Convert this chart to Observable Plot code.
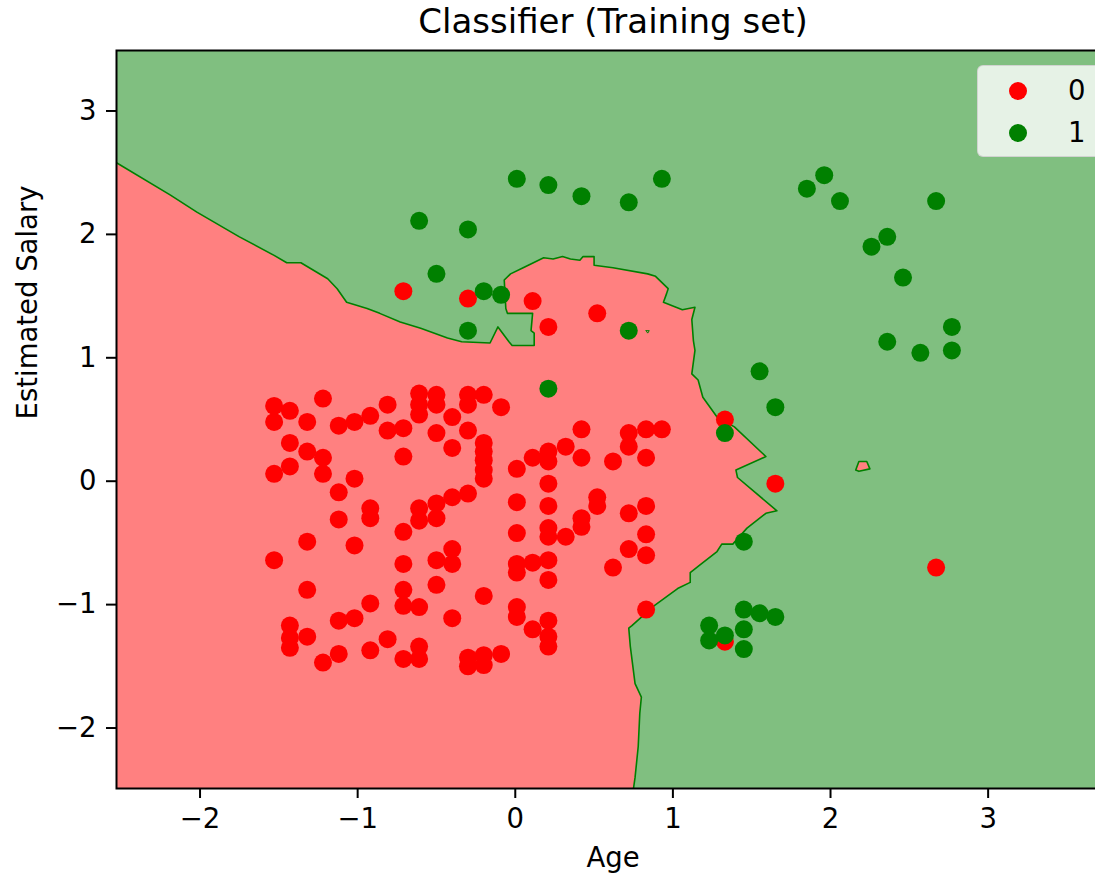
<!DOCTYPE html>
<html><head><meta charset="utf-8">
<script src="https://cdn.jsdelivr.net/npm/d3@7"></script>
<script src="https://cdn.jsdelivr.net/npm/@observablehq/plot@0.6"></script>
<style>
html,body{margin:0;padding:0;overflow:hidden;background:#fff}
#wrap{position:relative;width:1095px;height:878px;overflow:hidden}
#wrap svg{max-width:none !important;display:block}
.legend{position:absolute;left:977px;top:65px;width:125px;height:92px;background:rgba(255,255,255,0.8);border:1.5px solid rgba(204,204,204,0.8);border-radius:6px;box-sizing:border-box;font-family:"DejaVu Sans",sans-serif;font-size:27.5px;color:#000}
.sw{position:absolute;width:18px;height:18px;border-radius:50%}
.lab{position:absolute;line-height:30px}
</style></head>
<body><div id="wrap"></div>
<script>
// ---- texts
const title = "Classifier (Training set)";
const xLabel = "Age";
const yLabel = "Estimated Salary";
const classes = ["0", "1"];
const pointColors = ["#ff0000", "#008000"];
const regionColors = ["#ff8080", "#80bf80"];
const xTicks = [-2, -1, 0, 1, 2, 3];
const yTicks = [-2, -1, 0, 1, 2, 3];
const xDomain = [-2.53, 3.77];
const yDomain = [-2.49, 3.49];

// ---- class 0 training points [Age, EstimatedSalary] (scaled)
const class0 = [
  [-1.53,0.61],[-1.53,0.48],[-1.53,0.06],[-1.53,-0.64],
  [-1.43,0.57],[-1.43,0.31],[-1.43,0.12],[-1.43,-1.17],[-1.43,-1.27],[-1.43,-1.35],
  [-1.32,0.48],[-1.32,0.24],[-1.32,-0.49],[-1.32,-0.88],[-1.32,-1.26],
  [-1.22,0.67],[-1.22,0.19],[-1.22,0.06],[-1.22,-1.47],
  [-1.12,0.45],[-1.12,-0.09],[-1.12,-0.31],[-1.12,-1.13],[-1.12,-1.40],
  [-1.02,0.48],[-1.02,0.02],[-1.02,-0.52],[-1.02,-1.11],
  [-0.92,0.53],[-0.92,-0.22],[-0.92,-0.30],[-0.92,-0.99],[-0.92,-1.37],
  [-0.81,0.62],[-0.81,0.41],[-0.81,-1.28],
  [-0.71,0.43],[-0.71,0.20],[-0.71,-0.41],[-0.71,-0.67],[-0.71,-0.88],[-0.71,-1.01],[-0.71,-1.44],
  [-0.61,0.71],[-0.61,0.62],[-0.61,0.54],[-0.61,-0.22],[-0.61,-0.32],[-0.61,-1.02],[-0.61,-1.34],[-0.61,-1.44],
  [-0.50,0.70],[-0.50,0.62],[-0.50,0.39],[-0.50,-0.18],[-0.50,-0.30],[-0.50,-0.64],[-0.50,-0.84],
  [-0.40,0.52],[-0.40,0.27],[-0.40,-0.13],[-0.40,-0.55],[-0.40,-0.67],[-0.40,-1.11],
  [-0.30,0.70],[-0.30,0.62],[-0.30,0.41],[-0.30,-0.10],[-0.30,-1.43],[-0.30,-1.50],
  [-0.20,0.70],[-0.20,0.31],[-0.20,0.24],[-0.20,0.17],[-0.20,0.09],[-0.20,0.02],[-0.20,-0.93],[-0.20,-1.41],[-0.20,-1.49],
  [-0.09,0.60],[-0.09,-1.40],
  [0.01,0.10],[0.01,-0.17],[0.01,-0.42],[0.01,-0.67],[0.01,-0.74],[0.01,-1.02],[0.01,-1.10],
  [0.11,0.19],[0.11,-0.66],[0.11,-1.20],
  [0.21,0.24],[0.21,0.16],[0.21,-0.02],[0.21,-0.20],[0.21,-0.38],[0.21,-0.45],[0.21,-0.64],[0.21,-0.80],[0.21,-1.13],[0.21,-1.26],[0.21,-1.34],
  [0.32,0.28],[0.32,-0.45],
  [0.42,0.42],[0.42,0.19],[0.42,-0.30],[0.42,-0.37],
  [0.52,-0.13],[0.52,-0.20],
  [0.62,0.16],[0.62,-0.70],
  [0.72,0.39],[0.72,0.28],[0.72,-0.26],[0.72,-0.55],
  [0.83,0.42],[0.83,0.19],[0.83,-0.20],[0.83,-0.43],[0.83,-0.60],[0.83,-1.04],
  [0.93,0.42],
  [-0.71,1.54],[-0.30,1.48],[0.11,1.46],[0.21,1.25],[0.52,1.36],
  [1.33,0.50],[1.65,-0.02],[2.67,-0.70],[1.33,-1.30]
];

// ---- class 1 training points
const class1 = [
  [-0.61,2.11],[-0.30,2.04],[-0.50,1.68],[-0.20,1.54],[-0.09,1.51],[-0.30,1.22],
  [0.72,1.22],[0.21,0.75],
  [0.01,2.45],[0.21,2.40],[0.42,2.31],[0.72,2.26],[0.93,2.45],
  [1.85,2.37],[1.96,2.48],[2.06,2.27],[2.67,2.27],[2.26,1.90],[2.36,1.98],[2.46,1.65],
  [2.77,1.25],[2.77,1.06],[2.36,1.13],[2.57,1.04],
  [1.55,0.89],[1.65,0.60],[1.33,0.39],[1.45,-0.49],
  [1.23,-1.17],[1.23,-1.29],[1.33,-1.25],[1.45,-1.04],[1.45,-1.20],[1.45,-1.36],[1.55,-1.07],[1.65,-1.10]
];

// ---- decision boundary (class 0 region edge), left edge to bottom edge
const boundary = [
  [-2.53,2.58],[-2.19,2.32],[-2.02,2.18],[-1.75,1.98],[-1.53,1.83],[-1.45,1.77],[-1.36,1.77],
  [-1.19,1.64],[-1.13,1.56],[-1.07,1.45],[-0.94,1.40],[-0.86,1.36],[-0.73,1.29],[-0.60,1.24],
  [-0.43,1.16],[-0.34,1.13],[-0.16,1.12],[-0.11,1.25],[-0.04,1.13],[-0.02,1.10],[0.12,1.10],
  [0.12,1.20],[0.10,1.22],[0.11,1.36],[-0.05,1.36],[-0.06,1.40],[-0.07,1.63],[-0.03,1.68],
  [0.05,1.73],[0.18,1.81],[0.24,1.80],[0.30,1.82],[0.35,1.80],[0.41,1.79],[0.43,1.82],
  [0.50,1.82],[0.50,1.75],[0.62,1.73],[0.84,1.68],[0.89,1.66],[0.97,1.56],[0.96,1.52],
  [0.94,1.45],[1.06,1.39],[1.14,1.41],[1.12,1.31],[1.13,1.14],[1.14,1.06],[1.12,0.87],
  [1.16,0.82],[1.19,0.68],[1.28,0.52],[1.39,0.44],[1.59,0.20],[1.40,0.09],[1.41,0.03],
  [1.66,-0.24],[1.59,-0.26],[1.47,-0.38],[1.38,-0.51],[1.31,-0.51],[1.28,-0.57],[1.17,-0.68],
  [1.11,-0.74],[1.11,-0.82],[1.03,-0.87],[0.88,-1.01],[0.74,-1.17],[0.72,-1.19],[0.73,-1.34],
  [0.76,-1.64],[0.80,-1.75],[0.79,-1.88],[0.78,-2.15],[0.76,-2.40],[0.75,-2.49]
];
const regionCorners = [[-2.53,-2.49],[-2.53,2.58]];
const island = [[2.16,0.09],[2.18,0.16],[2.23,0.16],[2.25,0.10],[2.18,0.08],[2.16,0.09]];
const speck = [[0.83,1.22],[0.85,1.22],[0.84,1.20],[0.83,1.22]];

const X = d => d[0], Y = d => d[1];
const redRegion = boundary.concat(regionCorners);

const chart = Plot.plot({
  width: 1110, height: 878,
  marginTop: 50, marginBottom: 90, marginLeft: 116, marginRight: 1,
  x: {domain: xDomain},
  y: {domain: yDomain},
  style: {fontFamily: "'DejaVu Sans', sans-serif", fontSize: "27.5px", color: "black", background: "white", maxWidth: "none"},
  marks: [
    Plot.frame({fill: regionColors[1], stroke: "none"}),
    Plot.line(redRegion, {x: X, y: Y, fill: regionColors[0], stroke: "none", clip: true}),
    Plot.line(boundary, {x: X, y: Y, stroke: pointColors[1], strokeWidth: 1.6, clip: true}),
    Plot.line(island, {x: X, y: Y, fill: regionColors[0], stroke: pointColors[1], strokeWidth: 1.6}),
    Plot.line(speck, {x: X, y: Y, fill: regionColors[0], stroke: pointColors[1], strokeWidth: 1}),
    Plot.dot(class0, {x: X, y: Y, r: 9, fill: pointColors[0], stroke: "none"}),
    Plot.dot(class1, {x: X, y: Y, r: 9, fill: pointColors[1], stroke: "none"}),
    Plot.frame({stroke: "black", strokeWidth: 2}),
    Plot.axisX({ticks: xTicks, tickFormat: "d", tickSize: 10, tickPadding: 10, label: null, strokeWidth: 2}),
    Plot.axisY({ticks: yTicks, tickFormat: "d", tickSize: 10, tickPadding: 10, label: null, strokeWidth: 2}),
    Plot.text([xLabel], {text: d => d, frameAnchor: "bottom", lineAnchor: "middle", dy: 70}),
    Plot.text([yLabel], {text: d => d, frameAnchor: "left", lineAnchor: "middle", dx: -88, rotate: -90}),
    Plot.text([title], {text: d => d, frameAnchor: "top", lineAnchor: "middle", dy: -28, fontSize: 34})
  ]
});
chart.style.maxWidth = "none";
const wrap = document.getElementById("wrap");
wrap.appendChild(chart);

// legend
const lg = document.createElement("div");
lg.className = "legend";
classes.forEach((c, i) => {
  const sw = document.createElement("div");
  sw.className = "sw";
  sw.style.background = pointColors[i];
  sw.style.left = "31px";
  sw.style.top = (16 + i * 42) + "px";
  lg.appendChild(sw);
  const t = document.createElement("div");
  t.className = "lab";
  t.textContent = c;
  t.style.left = "90px";
  t.style.top = (9 + i * 42) + "px";
  lg.appendChild(t);
});
wrap.appendChild(lg);
</script></body></html>
